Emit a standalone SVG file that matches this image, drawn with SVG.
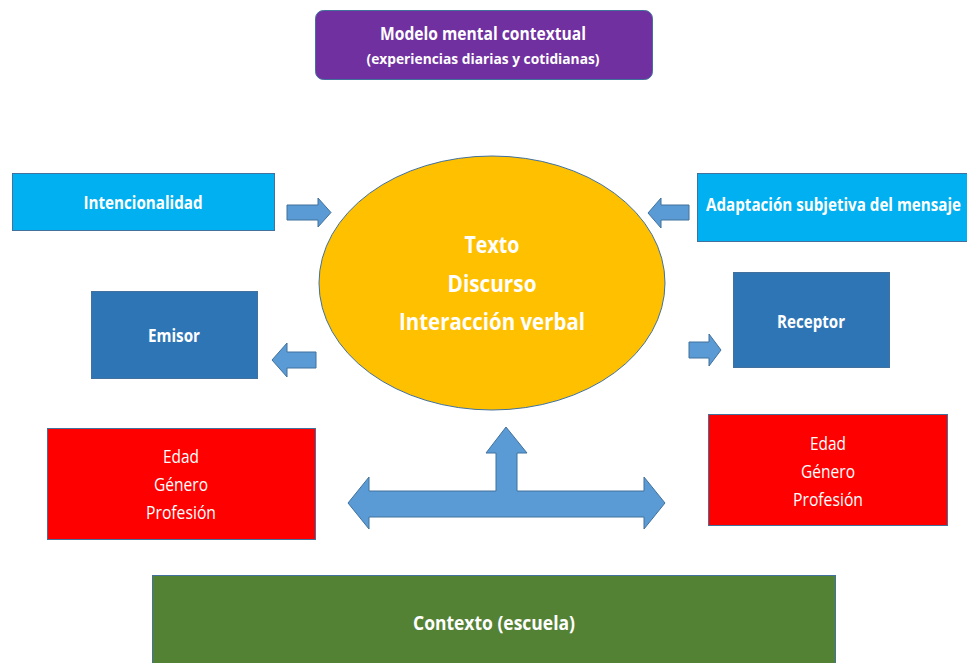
<svg xmlns="http://www.w3.org/2000/svg" width="967" height="663" viewBox="0 0 967 663">
<style>
text{font-family:"Open Sans","Liberation Sans",sans-serif;fill:#fff;text-anchor:middle}
.b{font-weight:bold}
.box{stroke:#41719C;stroke-width:1}
.arr{fill:#5B9BD5;stroke:#41719C;stroke-width:1}
</style>
<rect width="967" height="663" fill="#fff"/>
<g id="modelo">
<rect x="315.5" y="10.5" width="337" height="69" rx="8" fill="#7030A0" class="box"/>
<text x="483" y="40" class="b" font-size="17" textLength="206" lengthAdjust="spacingAndGlyphs">Modelo mental contextual</text>
<text x="483" y="64" class="b" font-size="14" textLength="233" lengthAdjust="spacingAndGlyphs">(experiencias diarias y cotidianas)</text>
</g>
<g id="intencionalidad">
<rect x="12.5" y="173.5" width="262" height="57" fill="#00B0F0" class="box"/>
<text x="143" y="209" class="b" font-size="18" textLength="119" lengthAdjust="spacingAndGlyphs">Intencionalidad</text>
</g>
<g id="adaptacion">
<rect x="697.5" y="173.5" width="275" height="68" fill="#00B0F0" class="box"/>
<text x="833.5" y="211" class="b" font-size="18" textLength="255" lengthAdjust="spacingAndGlyphs">Adaptación subjetiva del mensaje</text>
</g>
<g id="centro">
<ellipse cx="492" cy="283" rx="173" ry="127" fill="#FFC000" stroke="#41719C" stroke-width="1"/>
<text x="492" y="253" class="b" font-size="24" textLength="55" lengthAdjust="spacingAndGlyphs">Texto</text>
<text x="492" y="292" class="b" font-size="24" textLength="89" lengthAdjust="spacingAndGlyphs">Discurso</text>
<text x="492" y="330" class="b" font-size="24" textLength="186" lengthAdjust="spacingAndGlyphs">Interacción verbal</text>
</g>
<g id="emisor">
<rect x="91.5" y="291.5" width="166" height="87" fill="#2E75B6" class="box"/>
<text x="174" y="342" class="b" font-size="18" textLength="52" lengthAdjust="spacingAndGlyphs">Emisor</text>
</g>
<g id="receptor">
<rect x="733.5" y="272.5" width="156" height="95" fill="#2E75B6" class="box"/>
<text x="811" y="328" class="b" font-size="18" textLength="68" lengthAdjust="spacingAndGlyphs">Receptor</text>
</g>
<g id="rasgos-emisor">
<rect x="47.5" y="428.5" width="268" height="111" fill="#FF0000" class="box"/>
<text x="181" y="463" font-size="18" textLength="36" lengthAdjust="spacingAndGlyphs">Edad</text>
<text x="181" y="491" font-size="18" textLength="54" lengthAdjust="spacingAndGlyphs">Género</text>
<text x="181" y="519" font-size="18" textLength="70" lengthAdjust="spacingAndGlyphs">Profesión</text>
</g>
<g id="rasgos-receptor">
<rect x="708.5" y="414.5" width="239" height="111" fill="#FF0000" class="box"/>
<text x="828" y="450" font-size="18" textLength="36" lengthAdjust="spacingAndGlyphs">Edad</text>
<text x="828" y="478" font-size="18" textLength="54" lengthAdjust="spacingAndGlyphs">Género</text>
<text x="828" y="506" font-size="18" textLength="70" lengthAdjust="spacingAndGlyphs">Profesión</text>
</g>
<g id="contexto">
<rect x="152.5" y="575.5" width="683" height="95" fill="#548235" class="box"/>
<text x="494" y="630" class="b" font-size="20" textLength="162" lengthAdjust="spacingAndGlyphs">Contexto (escuela)</text>
</g>
<g id="connectors">
<polygon class="arr" points="287,205 318,205 318,198 331,212.5 318,227 318,220 287,220"/>
<polygon class="arr" points="689,205 661,205 661,198 648,213 661,228 661,220 689,220"/>
<polygon class="arr" points="316,352 287,352 287,343 272,360 287,377 287,368 316,368"/>
<polygon class="arr" points="689,342 709,342 709,334 721,350 709,366 709,358 689,358"/>
<polygon class="arr" points="348,503 369,477 369,491 496,491 496,453 486,453 506,427 527,453 517,453 517,491 644,491 644,477 665,503 644,529 644,517 369,517 369,529"/>
</g>
</svg>
